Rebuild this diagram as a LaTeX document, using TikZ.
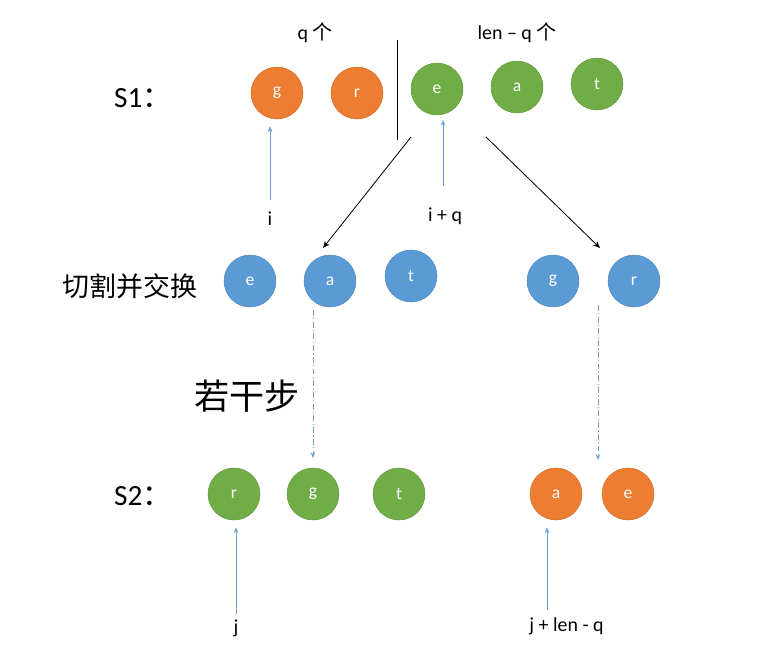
\documentclass[tikz,border=0pt]{standalone}
\usepackage{fontspec}
\setmainfont{Carlito}
\newfontfamily\cjk{Noto Sans CJK SC}
\usepackage{xcolor}
\usetikzlibrary{arrows.meta}
\definecolor{orng}{HTML}{ED7D31}
\definecolor{grn}{HTML}{70AD47}
\definecolor{blu}{HTML}{5B9BD5}
\definecolor{ptrblue}{HTML}{6FA0D8}
\tikzset{
    ball/.style={circle, draw=#1!85!black, line width=0.4pt, fill=#1, minimum size=1.56cm, inner sep=0pt, text=white, font=\fontsize{15}{15}\selectfont},
    lbl/.style={font=\fontsize{17}{17}\selectfont, inner sep=1pt},
    blackarrow/.style={-{Stealth[length=6pt,width=5pt]}, line width=0.7pt},
    ptr/.style={-{Stealth[length=5pt,width=4pt]}, draw=ptrblue, line width=0.6pt},
    jump/.style={-{Stealth[length=5pt,width=4pt]}, draw=ptrblue, line width=0.6pt, dash pattern=on 5pt off 2pt on 1pt off 2pt}
}
\begin{document}
\begin{tikzpicture}[x=0.03cm, y=-0.03cm]
    \useasboundingbox (0,0) rectangle (762,658);
    % row S1
    \node (s1) at (143,98) {\fontsize{25}{25}\selectfont S1\cjk ：};
    \node (g1) [ball=orng] at (277,93) {g};
    \node (r1) [ball=orng] at (357,93) {r};
    \node (e1) [ball=grn] at (437,89) {e};
    \node (a1) [ball=grn] at (517,87) {a};
    \node (t1) [ball=grn] at (597,84) {t};
    \node (qcnt) [lbl] at (315,33) {q {\cjk 个}};
    \node (lqcnt) [lbl] at (517,33) {len – q {\cjk 个}};
    \coordinate (cuttop) at (397,40);
    \coordinate (cutbot) at (397,140);
    \draw [line width=0.8pt] (cuttop) -- (cutbot);
    \node (li) [lbl] at (270,219) {i};
    \node (liq) [lbl] at (445,216) {i + q};
    \coordinate (li0) at (270,200);
    \coordinate (liq0) at (443,186);
    \draw [ptr, shorten >=6pt] (li0) -- (li0 |- g1.south);
    \draw [ptr, shorten >=4pt] (liq0) -- (liq0 |- e1.south);
    % row 2
    \node (cut) at (130,286) {\cjk\fontsize{23}{23}\selectfont 切割并交换};
    \node (e2) [ball=blu] at (250,281) {e};
    \node (a2) [ball=blu] at (330,281) {a};
    \node (t2) [ball=blu] at (411,276) {t};
    \node (g2) [ball=blu] at (553,281) {g};
    \node (r2) [ball=blu] at (634,281) {r};
    \coordinate (lsrc) at (411,137);
    \coordinate (ldst) at (323,248);
    \coordinate (rsrc) at (486,137);
    \coordinate (rdst) at (600,248);
    \draw [blackarrow] (lsrc) -- (ldst);
    \draw [blackarrow] (rsrc) -- (rdst);
    \node (steps) at (247,396) {\cjk\fontsize{30}{30}\selectfont 若干步};
    % row S2
    \node (s2) at (143,496) {\fontsize{25}{25}\selectfont S2\cjk ：};
    \node (r3) [ball=grn] at (234,494) {r};
    \node (g3) [ball=grn] at (313,494) {g};
    \node (t3) [ball=grn] at (399,494) {t};
    \node (a3) [ball=orng] at (556,494) {a};
    \node (e3) [ball=orng] at (628,494) {e};
    \coordinate (jl0) at (313,310);
    \coordinate (jl1) at (313,458);
    \coordinate (jr0) at (598,305);
    \coordinate (jr1) at (598,460);
    \draw [jump] (jl0) -- (jl1);
    \draw [jump] (jr0) -- (jr1);
    \node (lj) [lbl] at (236,628) {j};
    \node (ljlq) [lbl, anchor=west] at (528,626) {j + len - q};
    \coordinate (lj0) at (236,614);
    \coordinate (ljlq0) at (547,610);
    \draw [ptr, shorten >=6pt] (lj0) -- (lj0 |- r3.south);
    \draw [ptr, shorten >=6pt] (ljlq0) -- (ljlq0 |- a3.south);
\end{tikzpicture}
\end{document}
